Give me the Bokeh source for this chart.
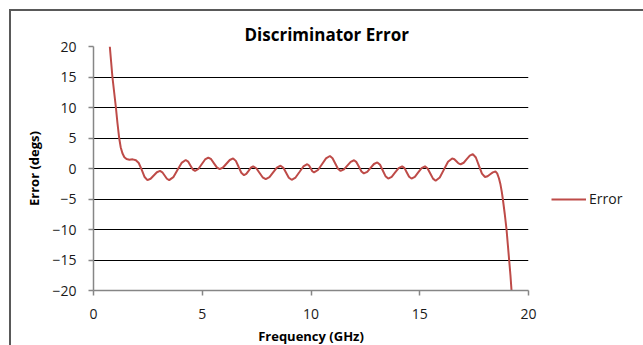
from bokeh.plotting import figure
from bokeh.models import Range1d, Legend, LegendItem
from bokeh.embed import file_html
from bokeh.resources import INLINE

title_text = "Discriminator Error"
x_label = "Frequency (GHz)"
y_label = "Error (degs)"
series_name = "Error"
x_ticks = [0, 5, 10, 15, 20]
y_ticks = [-20, -15, -10, -5, 0, 5, 10, 15, 20]

freq = [0.75, 0.81, 0.87, 0.95, 1.03, 1.10, 1.18, 1.25, 1.33, 1.42,
        1.52, 1.65, 1.80, 1.95, 2.08, 2.215, 2.35, 2.48, 2.625, 2.77,
        2.915, 3.06, 3.165, 3.27, 3.375, 3.48, 3.67, 3.86, 4.05, 4.24,
        4.35, 4.455, 4.56, 4.67, 4.82, 4.975, 5.13, 5.28, 5.41, 5.54,
        5.67, 5.80, 5.955, 6.11, 6.265, 6.42, 6.545, 6.67, 6.795, 6.92,
        7.025, 7.13, 7.235, 7.34, 7.485, 7.63, 7.775, 7.92, 8.09, 8.26,
        8.43, 8.60, 8.73, 8.855, 8.98, 9.11, 9.29, 9.47, 9.65, 9.83,
        9.91, 9.985, 10.06, 10.14, 10.32, 10.505, 10.69, 10.87, 10.99, 11.115,
        11.24, 11.36, 11.515, 11.67, 11.825, 11.98, 12.09, 12.205, 12.32, 12.43,
        12.585, 12.74, 12.895, 13.05, 13.175, 13.30, 13.425, 13.55, 13.71, 13.87,
        14.03, 14.19, 14.30, 14.405, 14.51, 14.62, 14.775, 14.93, 15.085, 15.24,
        15.36, 15.485, 15.61, 15.73, 15.92, 16.11, 16.30, 16.49, 16.59, 16.685,
        16.78, 16.88, 17.02, 17.16, 17.30, 17.44, 17.58, 17.72, 17.86, 18.00,
        18.12, 18.24, 18.36, 18.48, 18.56, 18.64, 18.71, 18.77, 18.82, 18.91,
        18.99, 19.05, 19.11, 19.17, 19.22]

error = [20.0, 17.5, 15.0, 12.5, 10.0, 7.5, 5.0, 3.5, 2.5, 1.85,
         1.55, 1.45, 1.5, 1.35, 0.9, -0.2, -1.4, -1.9, -1.68, -1.15,
         -0.62, -0.4, -0.62, -1.15, -1.68, -1.9, -1.42, -0.25, 0.92, 1.4,
         1.14, 0.5, -0.14, -0.4, -0.08, 0.7, 1.48, 1.8, 1.52, 0.85,
         0.18, -0.1, 0.16, 0.78, 1.39, 1.65, 1.25, 0.28, -0.7, -1.1,
         -0.89, -0.38, 0.14, 0.35, 0.04, -0.7, -1.44, -1.75, -1.43, -0.65,
         0.13, 0.45, 0.11, -0.7, -1.51, -1.85, -1.48, -0.58, 0.33, 0.7,
         0.5, 0.03, -0.45, -0.65, -0.25, 0.7, 1.65, 2.05, 1.69, 0.83,
         -0.04, -0.4, -0.14, 0.48, 1.09, 1.35, 1.04, 0.28, -0.49, -0.8,
         -0.54, 0.1, 0.74, 1.0, 0.61, -0.33, -1.26, -1.65, -1.36, -0.65,
         0.06, 0.35, 0.06, -0.65, -1.36, -1.65, -1.36, -0.65, 0.06, 0.35,
         0.01, -0.83, -1.66, -2.0, -1.47, -0.18, 1.12, 1.65, 1.51, 1.18,
         0.84, 0.7, 0.94, 1.53, 2.11, 2.35, 1.8, 0.48, -0.85, -1.4,
         -1.27, -0.95, -0.63, -0.5, -0.8, -1.6, -2.6, -3.8, -5.0, -7.5,
         -10.0, -12.5, -15.0, -17.5, -20.0]

FONT = "Open Sans"
AXIS_GRAY = "#868686"
LINE_RED = "#BE4B48"

p = figure(frame_width=435, frame_height=244,
           min_border_left=82, min_border_right=111,
           min_border_top=35, min_border_bottom=51,
           x_range=Range1d(0, 20), y_range=Range1d(-20, 20),
           output_backend="svg", toolbar_location=None,
           background_fill_color="white", border_fill_color="white")
p.styles = {"margin-left": "9px", "margin-top": "9px",
            "border-left": "2px solid #595959", "border-top": "2px solid #595959"}
p.outline_line_color = None

p.title.text = title_text
p.title.align = "left"
p.title.offset = 151
p.title.text_font = FONT
p.title.text_font_size = "17px"
p.title.text_font_style = "bold"
p.title.text_color = "black"
p.title.standoff = 1

p.xgrid.visible = False
p.ygrid.ticker = y_ticks
p.ygrid.grid_line_color = "black"
p.ygrid.grid_line_width = 1

for ax in (p.xaxis[0], p.yaxis[0]):
    ax.axis_line_color = AXIS_GRAY
    ax.axis_line_width = 1.5
    ax.major_tick_line_color = AXIS_GRAY
    ax.major_tick_line_width = 1.5
    ax.major_tick_out = 5
    ax.major_tick_in = 0
    ax.minor_tick_line_color = None
    ax.major_label_text_font = FONT
    ax.major_label_text_font_size = "14px"
    ax.major_label_text_color = "#1a1a1a"
    ax.axis_label_text_font = FONT
    ax.axis_label_text_font_size = "13px"
    ax.axis_label_text_font_style = "bold"
    ax.axis_label_text_color = "black"

p.xaxis.ticker = x_ticks
p.yaxis.ticker = y_ticks
p.xaxis.axis_label = x_label
p.yaxis.axis_label = y_label
p.yaxis.major_label_standoff = 12
p.xaxis.major_label_standoff = 13
p.yaxis.axis_label_standoff = 6
p.xaxis.axis_label_standoff = 5

r = p.line(freq, error, line_color=LINE_RED, line_width=2)

legend = Legend(items=[LegendItem(label=series_name, renderers=[r])],
                location=(23, 82), glyph_width=35, glyph_height=16,
                label_height=16, label_standoff=3, padding=0, margin=0,
                border_line_color=None, background_fill_alpha=0,
                label_text_font=FONT, label_text_font_size="14px",
                label_text_color="#1a1a1a")
p.add_layout(legend, "right")

open("out.html", "w").write(file_html(p, INLINE))
